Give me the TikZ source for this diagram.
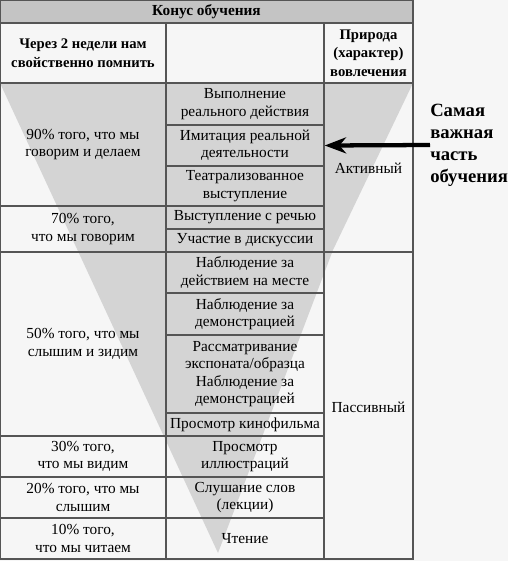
\documentclass[tikz,border=0pt]{standalone}
\usepackage{fontspec}
\setmainfont{Liberation Serif}
\usetikzlibrary{arrows.meta}
\definecolor{bgc}{RGB}{246,246,246}
\definecolor{conec}{RGB}{212,212,212}
\definecolor{titlec}{RGB}{196,196,196}
\definecolor{linec}{RGB}{85,85,85}
\newcommand\cellbox[7][cellst]{\node[#1, minimum width={(#5-#3)*0.75pt}, minimum height={(#6-#4)*0.75pt}] (#2) at ({(#3+#5)/2},{(#4+#6)/2}) {#7};}
\begin{document}
\begin{tikzpicture}[x=0.75pt,y=-0.75pt,
  cellst/.style={draw=linec, line width=1.1pt, inner sep=0pt, align=center, font=\fontsize{11.5}{13}\selectfont},
  headst/.style={cellst, font=\bfseries\fontsize{11}{14}\selectfont},
  titlest/.style={cellst, fill=titlec, font=\bfseries\fontsize{11.5}{13}\selectfont},
  labelst/.style={align=left, inner sep=0pt, font=\bfseries\fontsize{14}{16.5}\selectfont},
  arrowst/.style={draw=black, line width=3.2pt, -{Stealth[length=16pt,width=12pt,inset=5pt]}}
]
\useasboundingbox (0,0) rectangle (508,561);
\fill[bgc] (0,0) rectangle (508,561);
% cone
\fill[conec] (0,83) -- (413,83) -- (333,250) -- (218,553) -- cycle;
% title and header
\cellbox[titlest]{title}{0}{0}{413}{23}{Конус обучения}
\cellbox[headst]{h1}{0}{23}{166}{83}{Через 2 недели нам\\свойственно помнить}
\cellbox[headst]{h2}{166}{23}{324}{83}{}
\cellbox[headst]{h3}{324}{23}{413}{83}{Природа\\(характер)\\вовлечения}
% column 1
\cellbox{p90}{0}{83}{166}{206}{90\% того, что мы\\говорим и делаем}
\cellbox{p70}{0}{206}{166}{252}{70\% того,\\что мы говорим}
\cellbox{p50}{0}{252}{166}{436}{50\% того, что мы\\слышим и зидим}
\cellbox{p30}{0}{436}{166}{477}{30\% того,\\что мы видим}
\cellbox{p20}{0}{477}{166}{518}{20\% того, что мы\\слышим}
\cellbox{p10}{0}{518}{166}{559}{10\% того,\\что мы читаем}
% column 2
\cellbox{a1}{166}{83}{324}{125}{Выполнение\\реального действия}
\cellbox{imit}{166}{125}{324}{166}{Имитация реальной\\деятельности}
\cellbox{a3}{166}{166}{324}{206}{Театрализованное\\выступление}
\cellbox{a4}{166}{206}{324}{229}{Выступление с речью}
\cellbox{a5}{166}{229}{324}{252}{Участие в дискуссии}
\cellbox{a6}{166}{252}{324}{293}{Наблюдение за\\действием на месте}
\cellbox{a7}{166}{293}{324}{335}{Наблюдение за\\демонстрацией}
\cellbox{a8}{166}{335}{324}{413}{Рассматривание\\экспоната/образца\\Наблюдение за\\демонстрацией}
\cellbox{a9}{166}{413}{324}{436}{Просмотр кинофильма}
\cellbox{a10}{166}{436}{324}{477}{Просмотр\\иллюстраций}
\cellbox{a11}{166}{477}{324}{518}{Слушание слов\\(лекции)}
\cellbox{a12}{166}{518}{324}{559}{Чтение}
% column 3
\node[cellst, minimum width={89*0.75pt}, minimum height={169*0.75pt}] (act) at (368.5,167.5) {};
\node[font=\fontsize{11.5}{13}\selectfont, inner sep=0pt] (actt) at (368.5,168) {Активный};
\node[cellst, minimum width={89*0.75pt}, minimum height={307*0.75pt}] (pas) at (368.5,405.5) {};
\node[font=\fontsize{11.5}{13}\selectfont, inner sep=0pt] (past) at (368.5,407) {Пассивный};
% label and arrow
\node[labelst, anchor=west] (lbl) at (430,145) {Самая\\важная\\часть\\обучения};
\draw[arrowst] (lbl.west) -- (imit.east);
\end{tikzpicture}
\end{document}
